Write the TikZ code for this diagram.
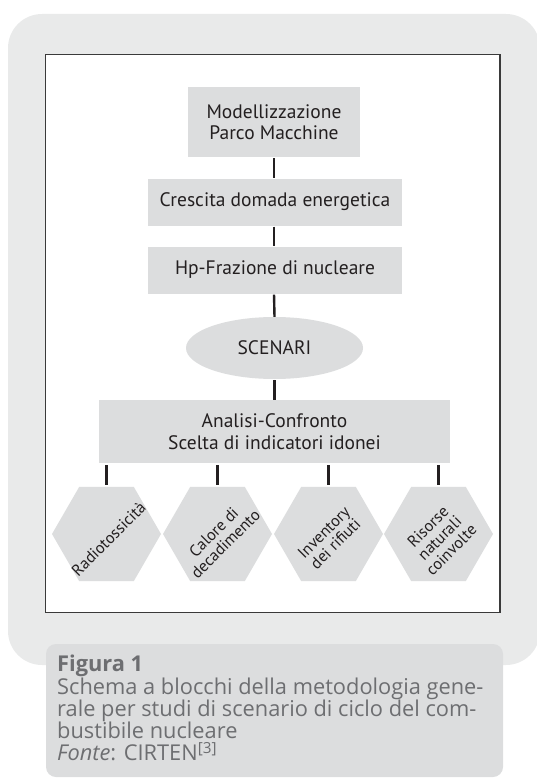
\documentclass[tikz,border=0pt]{standalone}
\usepackage{fontspec}
\setmainfont{PT Sans}
\newfontfamily\capfont{Open Sans}
\usetikzlibrary{shapes.geometric,calc}
\definecolor{panel}{HTML}{E9EAEA}
\definecolor{nodefill}{HTML}{DCDDDE}
\definecolor{capfill}{HTML}{DCDDDE}
\definecolor{captext}{HTML}{6D6E71}
\definecolor{ink}{HTML}{231F20}
\definecolor{frame}{HTML}{3A3A3A}
\tikzset{
  blockbox/.style={rectangle, fill=nodefill, inner sep=0pt, align=center, text=ink,
    font=\fontsize{19.5}{21.5}\selectfont},
  scenbox/.style={ellipse, fill=nodefill, inner sep=0pt, text=ink,
    font=\fontsize{19.5}{21.5}\selectfont, minimum width=177pt, minimum height=62pt},
  hexbox/.style={regular polygon, regular polygon sides=6, fill=nodefill, inner sep=0pt,
    minimum size=109pt},
  hextext/.style={rotate=45, align=center, text=ink, inner sep=0pt,
    font=\fontsize{16.3}{16.5}\selectfont},
  link/.style={draw=ink, line width=2.4pt},
}
\begin{document}
\begin{tikzpicture}[x=1pt,y=-1pt]
\useasboundingbox (0,0) rectangle (536,778);
% outer panel
\fill[panel, rounded corners=34pt] (8,14) rectangle (540,665);
% inner frame
\draw[frame, fill=white, line width=1.3pt] (45.5,54.5) rectangle (500,612.5);
% caption box
\fill[capfill, rounded corners=10pt] (46,644) rectangle (503,777);

% nodes
\node[blockbox, minimum width=172pt, minimum height=70pt] (b1) at (274,122) {Modellizzazione\\Parco Macchine};
\node[blockbox, minimum width=254pt, minimum height=47pt] (b2) at (275,202) {Crescita domada energetica};
\node[blockbox, minimum width=254pt, minimum height=47pt] (b3) at (275,270) {Hp-Frazione di nucleare};
\node[scenbox] (sc) at (274.5,348) {SCENARI};
\node[blockbox, minimum width=351pt, minimum height=63pt] (an) at (274.5,431.5) {Analisi-Confronto\\Scelta di indicatori idonei};

\node[hexbox] (h1) at (106.5,534) {};
\node[hexbox] (h2) at (217.5,534) {};
\node[hexbox] (h3) at (328.5,534) {};
\node[hexbox] (h4) at (438.5,534) {};

\node[hextext] (t1) at ($(h1.center)+(2,5)$) {Radiotossicità};
\node[hextext] (t2) at ($(h2.center)+(2,4)$) {Calore di\\decadimento};
\node[hextext] (t3) at ($(h3.center)+(1,4)$) {Inventory\\dei rifiuti};
\node[hextext] (t4) at ($(h4.center)+(1,4)$) {Risorse\\naturali\\coinvolte};

% connectors
\draw[link, shorten <=1pt] (b1.south) -- (b1.south |- b2.north);
\draw[link, shorten <=1pt] (b2.south -| b1.south) -- (b1.south |- b3.north);
\draw[link, shorten <=1pt] (b3.south -| b1.south) -- (sc.north);
\draw[link, shorten <=1pt] (sc.south) -- (an.north);
\foreach \h in {h1,h2,h3,h4}{
  \draw[link, shorten <=2pt, shorten >=2pt] (an.south -| \h.north) -- (\h.north);
}

% caption
\node[anchor=north west, inner sep=0pt, align=left, text=captext,
  font=\capfont\fontsize{21.8}{22.3}\selectfont] (cap) at (57,655)
  {\textbf{Figura 1}\\
   Schema a blocchi della metodologia gene-\\
   rale per studi di scenario di ciclo del com-\\
   bustibile nucleare\\
   \textit{Fonte}: CIRTEN\textsuperscript{[3]}};
\end{tikzpicture}
\end{document}
